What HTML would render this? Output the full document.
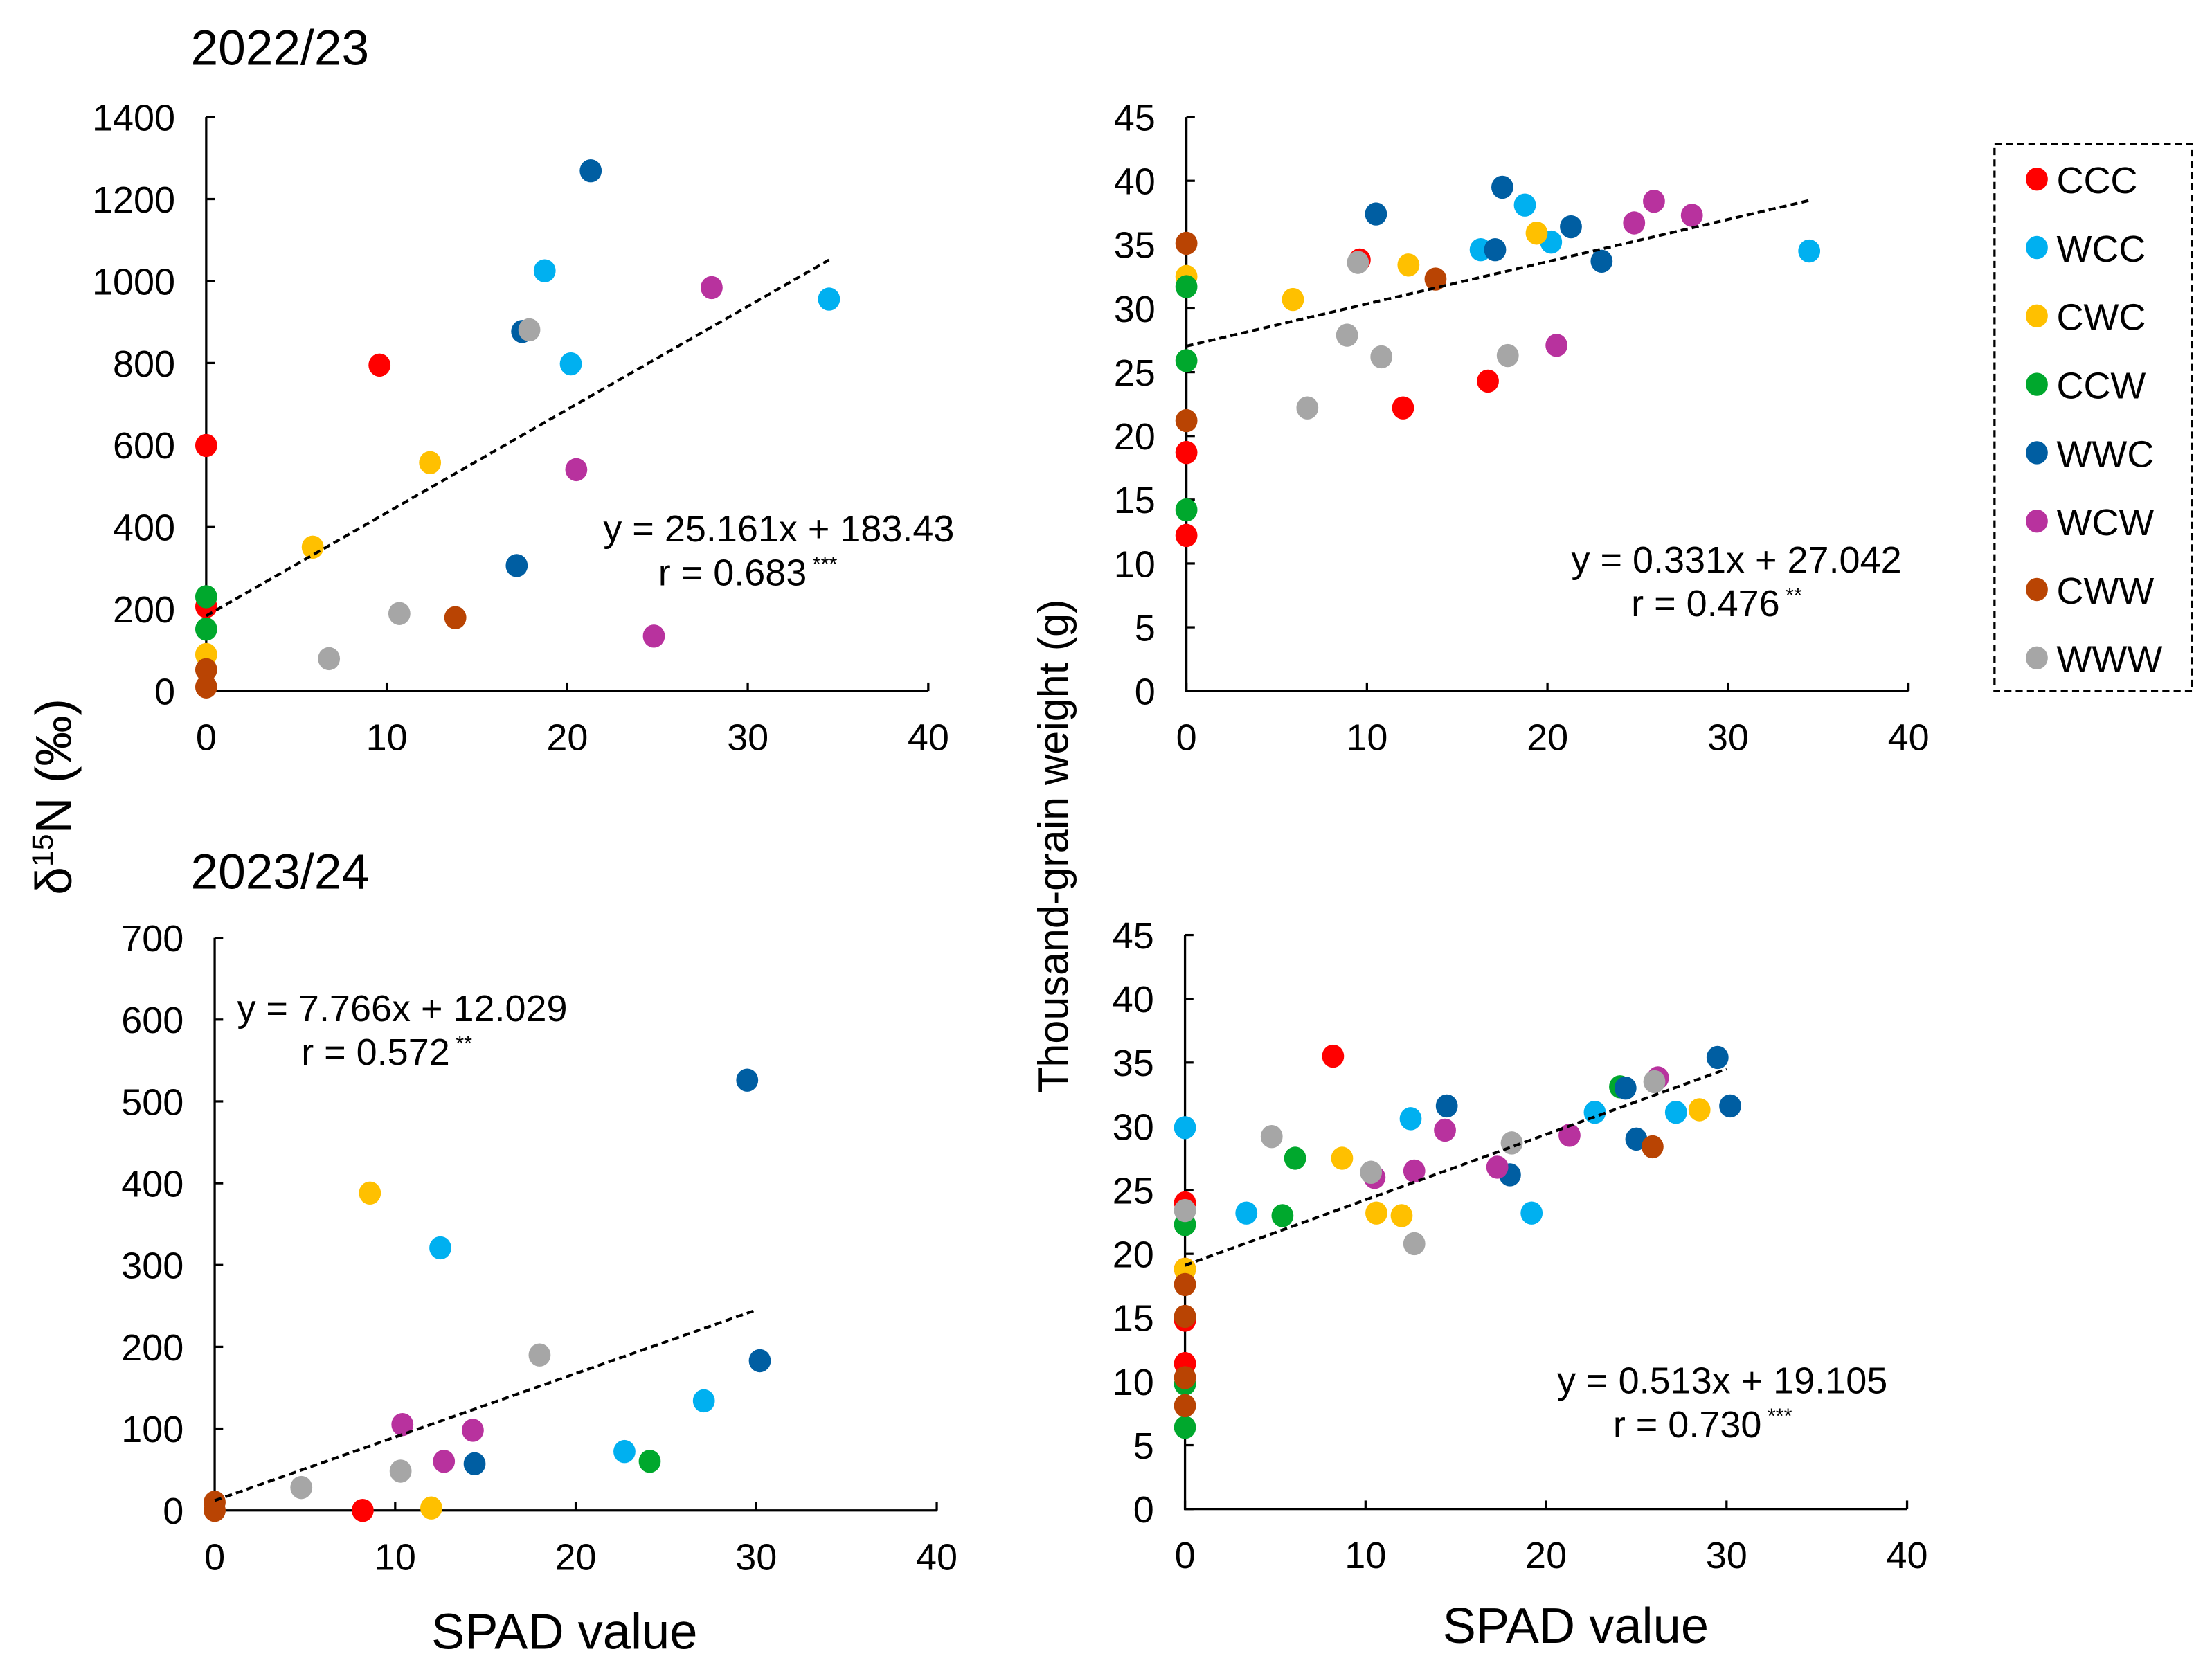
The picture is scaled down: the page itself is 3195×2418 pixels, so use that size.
<!DOCTYPE html>
<html><head><meta charset="utf-8"><style>
html,body{margin:0;padding:0;background:#fff}
svg{display:block}
text{font-family:"Liberation Sans",Arial,sans-serif;fill:#000}
</style></head><body>
<svg id="chart" width="3195" height="2418" viewBox="0 0 1568 1187" xmlns="http://www.w3.org/2000/svg">
<g id="root"></g>
</svg>
<script>
const groups = ["CCC","WCC","CWC","CCW","WWC","WCW","CWW","WWW"];
const colors = ["#ff0000","#00b0f0","#ffc000","#00a82d","#005ea2","#b8329e","#b94403","#a6a6a6"];
const xTicks = [0,10,20,30,40];
// Panel A: 2022/23 d15N
const aX = [[0,9.6,0],[18.75,20.2,34.5],[5.9,12.4,0],[0,0],[21.3,17.5,17.2],[28,20.5,24.8],[13.8,0,0],[17.9,10.7,6.8]];
const aY = [[599,795,206],[1025,798,956],[351,557,89],[230,151],[1269,877,306],[984,540,134],[179,52,10],[881,189,79]];
const aTicks = [0,200,400,600,800,1000,1200,1400];
// Panel B: 2022/23 TGW
const bX = [[9.6,12.0,16.7,0,0],[16.3,18.75,20.2,34.5],[5.9,12.3,19.4,0],[0,0,0],[10.5,17.5,17.1,21.3,23.0],[24.8,25.9,28,20.5],[13.8,0,0],[9.5,8.9,10.8,6.7,17.8]];
const bY = [[33.8,22.2,24.3,18.7,12.2],[34.6,38.1,35.2,34.5],[30.7,33.4,35.9,32.5],[31.7,25.9,14.2],[37.4,39.5,34.6,36.4,33.7],[36.7,38.4,37.3,27.1],[32.3,35.1,21.2],[33.6,27.9,26.2,22.2,26.3]];
const gTicks = [0,5,10,15,20,25,30,35,40,45];
// Panel C: 2023/24 d15N
const cX = [[8.2],[12.5,22.7,27.1],[8.6,12.0],[24.1],[29.5,30.2,14.4],[10.4,14.3,12.7],[0,0],[18.0,4.8,10.3]];
const cY = [[0],[321,72,134],[388,3],[60],[526,183,57],[105,98,60],[10,0],[190,28,48]];
const cTicks = [0,100,200,300,400,500,600,700];
// Panel D: 2023/24 TGW
const dX = [[8.2,0,0,0,0],[0,3.4,12.5,22.7,19.2,27.2],[8.7,10.6,12.0,28.5,0],[0,5.4,6.1,24.1,0,0],[14.5,18.0,24.4,25.0,29.5,30.2],[10.5,12.7,14.4,17.3,21.3,26.2],[25.9,0,0,0,0],[0,4.8,10.3,12.7,18.1,26.0]];
const dY = [[35.5,24,18.8,14.8,11.4],[29.9,23.2,30.6,31.1,23.2,31.1],[27.5,23.2,23.0,31.3,18.8],[22.3,23.0,27.5,33.1,9.8,6.4],[31.6,26.2,33.0,29.0,35.4,31.6],[26.0,26.5,29.7,26.8,29.3,33.8],[28.4,17.6,15.1,10.3,8.1],[23.4,29.2,26.4,20.8,28.7,33.5]];
const fits = [[25.161,183.43,34.5],[0.331,27.042,34.5],[7.766,12.029,30],[0.513,19.105,30]];

const NS="http://www.w3.org/2000/svg";
const root=document.getElementById('root');
function mk(tag,attrs,parent){const e=document.createElementNS(NS,tag);for(const k in attrs)e.setAttribute(k,attrs[k]);(parent||root).appendChild(e);return e;}
function txt(s,x,y,size,anchor,parent){const t=mk('text',{x:x,y:y,'font-size':size,'text-anchor':anchor||'middle'},parent);t.textContent=s;return t;}

function panel(name,x0,x1,y0,y1,ymax,yTicks,X,Y,fit,eq){
  const g=mk('g',{});
  
  
  const sx=v=>x0+(x1-x0)*v/40, sy=v=>y0-(y0-y1)*v/ymax;
  const ax=mk('path',{d:`M${x0},${y1}V${y0}H${x1}`,stroke:'#000','stroke-width':1.6,fill:'none'},g);
  
  
  yTicks.forEach(v=>{mk('line',{x1:x0,x2:x0+6,y1:sy(v),y2:sy(v),stroke:'#000','stroke-width':1.6},g);
    const t=txt(String(v),x0-22,sy(v)+9.5,26.5,'end',g);
    
    });
  xTicks.forEach(v=>{mk('line',{x1:sx(v),x2:sx(v),y1:y0,y2:y0-6,stroke:'#000','stroke-width':1.6},g);
    const t=txt(String(v),sx(v),y0+42,26.5,'middle',g);
    
    });
  X.forEach((xs,gi)=>xs.forEach((xv,i)=>{
    const c=mk('ellipse',{cx:sx(xv),cy:sy(Y[gi][i]),rx:7.8,ry:8.2,fill:colors[gi]},g);
    
    
  }));
  const tl=mk('line',{x1:sx(0),y1:sy(fit[1]),x2:sx(fit[2]),y2:sy(fit[0]*fit[2]+fit[1]),stroke:'#000','stroke-width':2,'stroke-dasharray':'5,3'},g);
  
  
  const e1=txt(eq[0],eq[2],eq[3],26.5,'middle',g);
  
  
  const e2=mk('text',{x:eq[4],y:eq[3]+31,'font-size':26.5,'text-anchor':'middle'},g);
  
  
  e2.textContent=eq[1];
  const sp=mk('tspan',{'font-size':15,dy:-10},e2);sp.textContent=' '+eq[5];
}
panel('panel-2022-d15n',146,658,490,83,1400,aTicks,aX,aY,fits[0],['y = 25.161x + 183.43','r = 0.683',552,384,530,'***']);
panel('panel-2022-tgw',841,1353,490,83,45,gTicks,bX,bY,fits[1],['y = 0.331x + 27.042','r = 0.476',1231,406,1217,'**']);
panel('panel-2023-d15n',152,664,1071,665,700,cTicks,cX,cY,fits[2],['y = 7.766x + 12.029','r = 0.572',285,724,274,'**']);
panel('panel-2023-tgw',840,1352,1070,663,45,gTicks,dX,dY,fits[3],['y = 0.513x + 19.105','r = 0.730',1221,988,1207,'***']);

// titles
let t;
t=txt('2022/23',135,46,35,'start');


t=txt('2023/24',135,630,35,'start');


t=txt('SPAD value',400,1169,35.5,'middle');


t=txt('SPAD value',1117,1165,35.5,'middle');


t=mk('text',{x:0,y:0,'font-size':36,'text-anchor':'middle',transform:'translate(50,565) rotate(-90)'});


t.textContent='δ';
let sp=mk('tspan',{'font-size':21,dy:-13},t);sp.textContent='15';
sp=mk('tspan',{dy:13},t);sp.textContent='N (‰)';
t=txt('Thousand-grain weight (g)',0,0,30,'middle');
t.setAttribute('transform','translate(757,600) rotate(-90)');



// legend
const lg=mk('g',{});


mk('rect',{x:1414,y:102,width:140,height:388,fill:'none',stroke:'#000','stroke-width':1.6,'stroke-dasharray':'5,3'},lg);
groups.forEach((gname,i)=>{
  const y=127+i*48.5;
  const e=mk('g',{},lg);
  
  
  mk('ellipse',{cx:1444,cy:y,rx:7.8,ry:8.2,fill:colors[i]},e);
  txt(gname,1458,y+10,26.5,'start',e);
});
</script>
</body></html>
